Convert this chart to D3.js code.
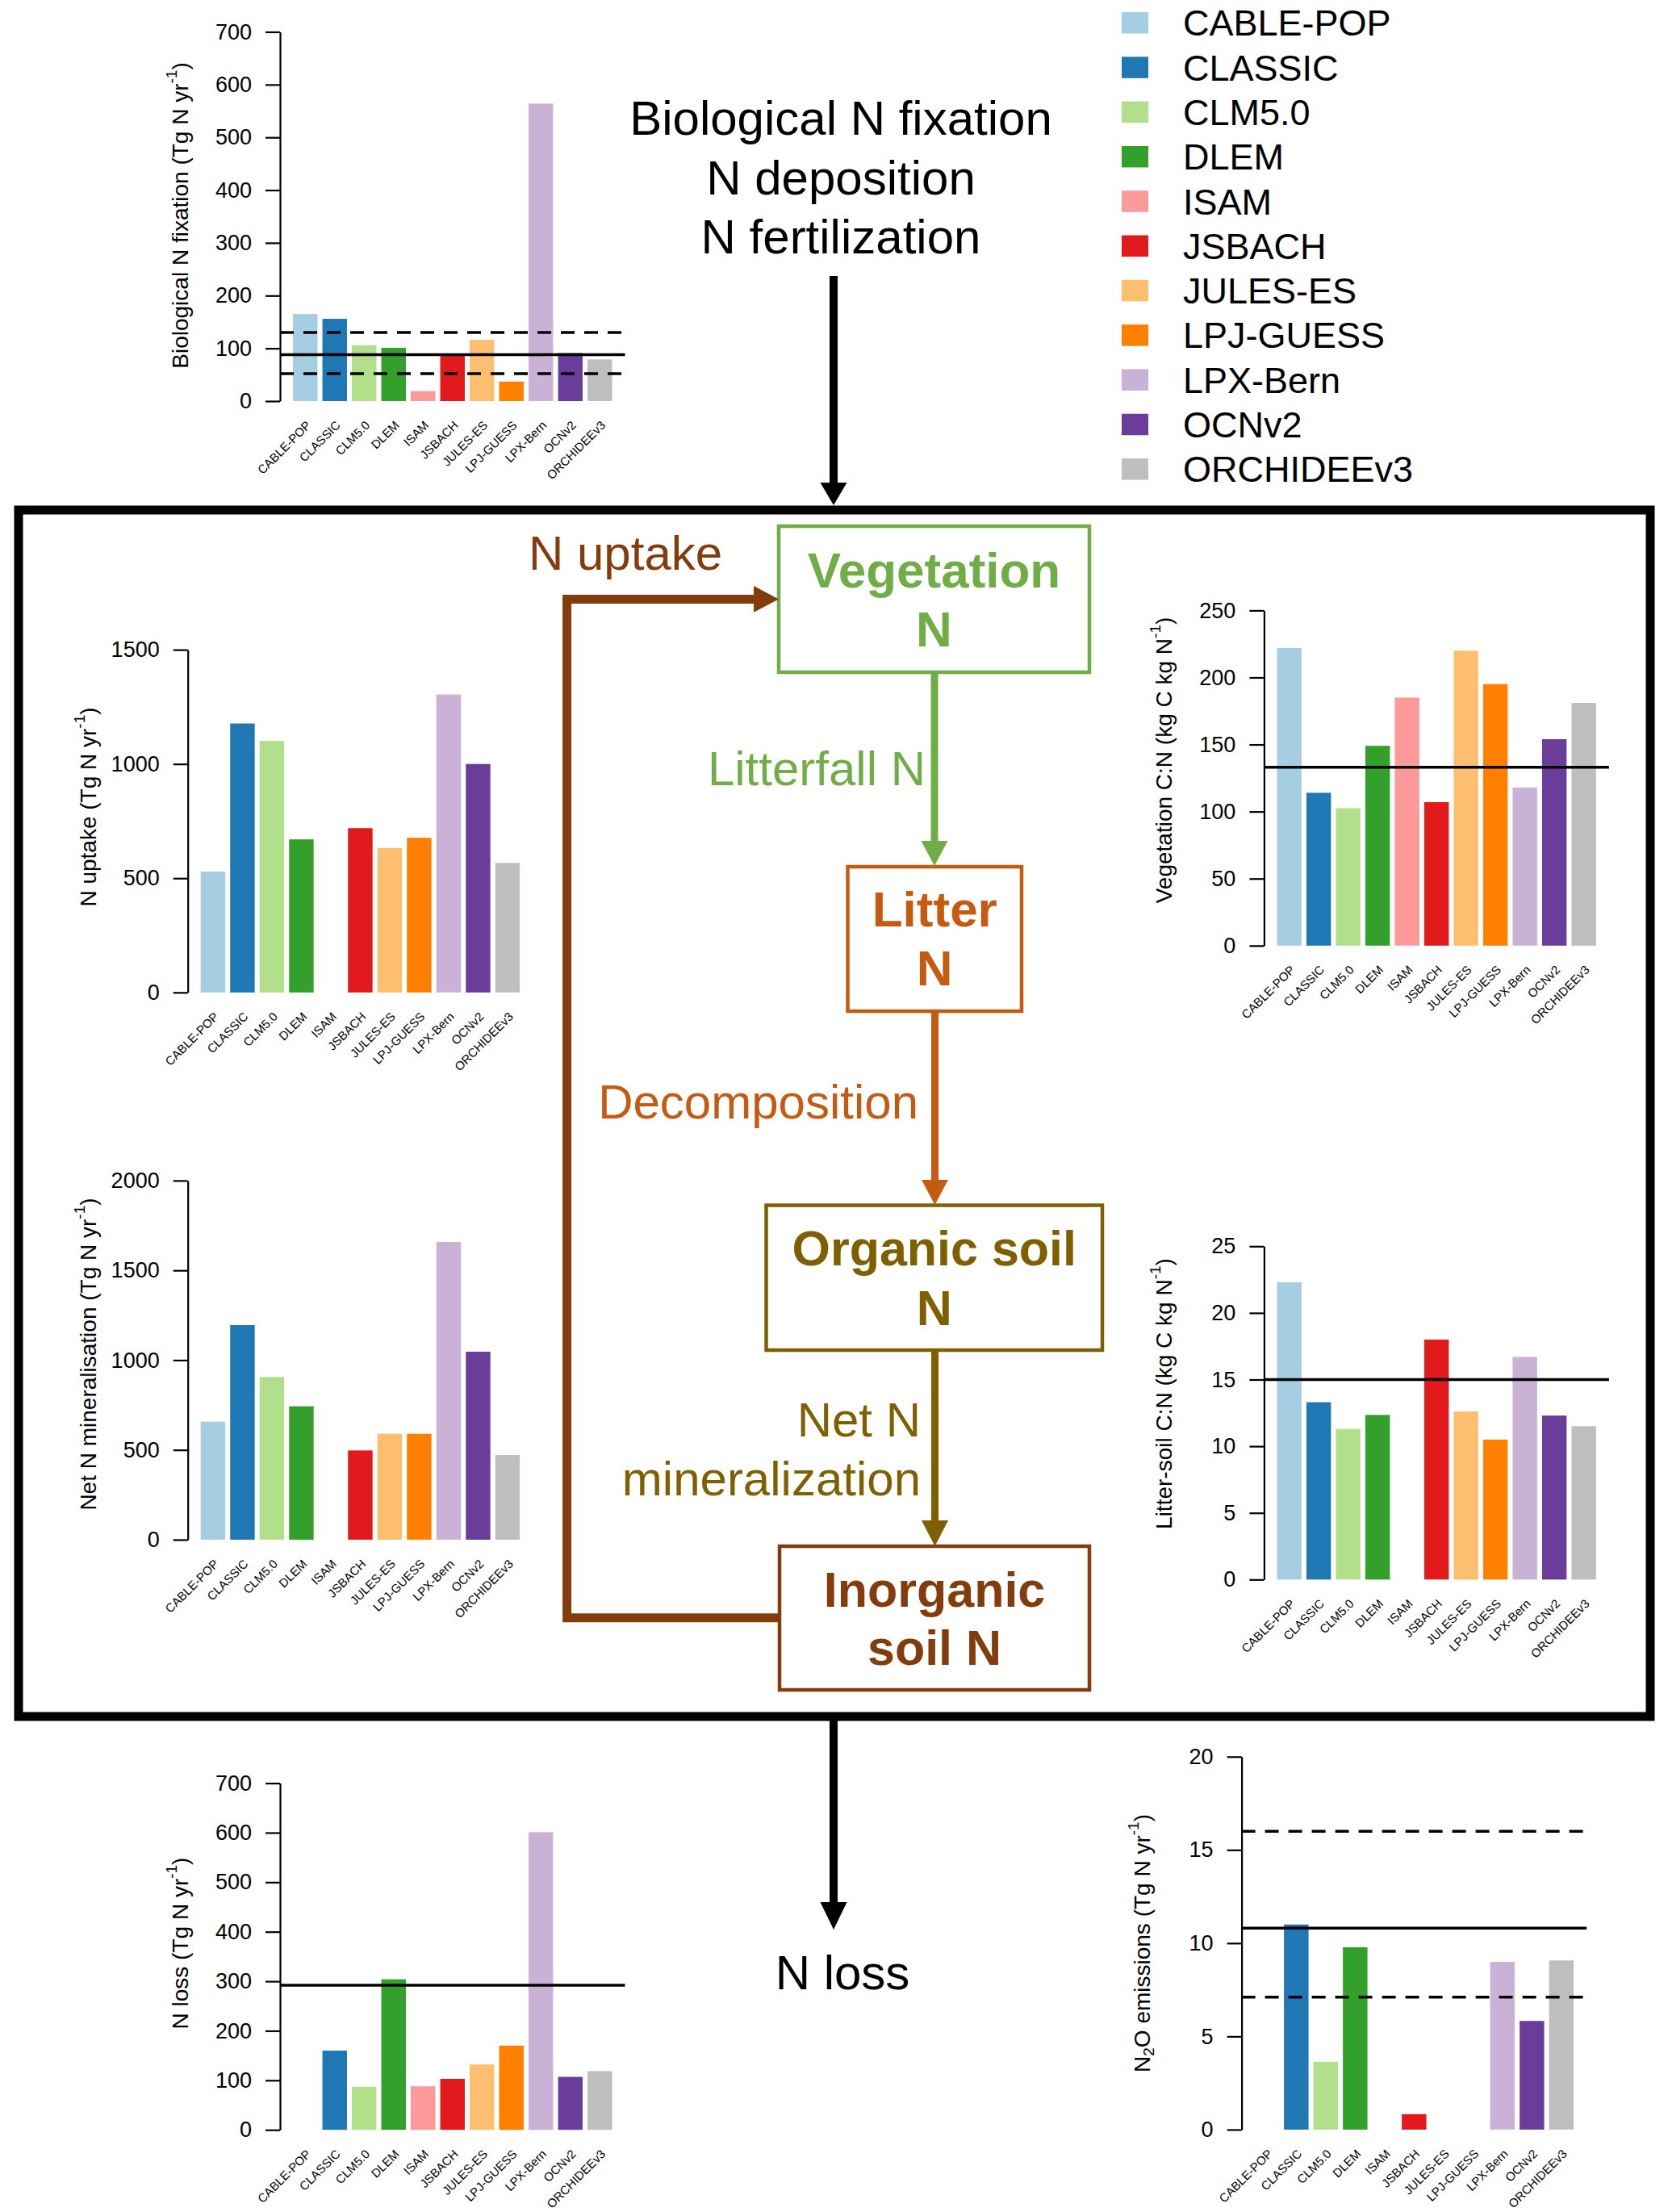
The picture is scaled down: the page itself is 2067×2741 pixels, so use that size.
<!DOCTYPE html>
<html>
<head>
<meta charset="utf-8">
<script src="https://cdn.jsdelivr.net/npm/d3@7"></script>
<style>
  body { margin: 0; background: #fff; }
  text { font-family: "Liberation Sans", Arial, Helvetica, sans-serif; }
</style>
</head>
<body>
<svg id="chart" width="2067" height="2741" xmlns="http://www.w3.org/2000/svg"></svg>
<script>
// ---------------- DATA ----------------
const models = ["CABLE-POP","CLASSIC","CLM5.0","DLEM","ISAM","JSBACH","JULES-ES","LPJ-GUESS","LPX-Bern","OCNv2","ORCHIDEEv3"];
const modelColors = ["#a6cee3","#1f78b4","#b2df8a","#33a02c","#fb9a99","#e31a1c","#fdbf6f","#ff7f00","#cab2d6","#6a3d9a","#bebebe"];

const bnfValues          = [165, 156, 106, 101, 19, 88, 116, 37, 564, 91, 79];
const bnfMean            = [88];
const bnfRange           = [52, 130];
const bnfTicks           = [0, 100, 200, 300, 400, 500, 600, 700];

const uptakeValues       = [529, 1177, 1101, 670, null, 719, 632, 677, 1304, 1000, 567];
const uptakeTicks        = [0, 500, 1000, 1500];

const vegCNValues        = [222, 114, 102.5, 149, 185, 107, 220, 195, 118, 154, 181];
const vegCNMean          = [133];
const vegCNTicks         = [0, 50, 100, 150, 200, 250];

const netMinValues       = [657, 1195, 906, 743, null, 497, 590, 590, 1658, 1047, 471];
const netMinTicks        = [0, 500, 1000, 1500, 2000];

const litterSoilCNValues = [22.3, 13.3, 11.3, 12.35, null, 18.0, 12.6, 10.5, 16.7, 12.3, 11.5];
const litterSoilCNMean   = [15];
const litterSoilCNTicks  = [0, 5, 10, 15, 20, 25];

const nLossValues        = [null, 160, 87, 304, 88, 103, 132, 170, 601, 107, 118.5];
const nLossMean          = [292];
const nLossTicks         = [0, 100, 200, 300, 400, 500, 600, 700];

const n2oValues          = [null, 11.0, 3.64, 9.78, null, 0.83, null, null, 9.0, 5.83, 9.07];
const n2oMean            = [10.8];
const n2oRange           = [7.1, 16];
const n2oTicks           = [0, 5, 10, 15, 20];

const inputLabels = ["Biological N fixation", "N deposition", "N fertilization"];

// ---------------- DRAWING ----------------
const svg = d3.select("#chart");
const color = d3.scaleOrdinal().domain(models).range(modelColors);

function yLabel(g, x, y, parts) {
  const t = g.append("text")
    .attr("transform", `translate(${x},${y}) rotate(-90)`)
    .attr("text-anchor", "middle")
    .attr("dominant-baseline", "central")
    .attr("font-size", 28)
    .attr("fill", "#000");
  parts.forEach(p => {
    const ts = t.append("tspan").text(p.t);
    if (p.dy) ts.attr("dy", p.dy);
    if (p.fs) ts.attr("font-size", p.fs);
  });
}

function unitParts(prefix) {
  return [
    {t: prefix + " (Tg N yr"},
    {t: "-1", dy: -11, fs: 19},
    {t: ")", dy: 11}
  ];
}

function panel(cfg) {
  const g = svg.append("g");
  const max = cfg.ticks[cfg.ticks.length - 1];
  const y = d3.scaleLinear().domain([0, max]).range([cfg.y0, cfg.yTop]);
  const step = 36.5;
  const r0 = cfg.axisX + 13;
  const x = d3.scaleBand().domain(models)
    .range([r0, r0 + step * models.length])
    .paddingInner(1/6).paddingOuter(1/12);

  // bars
  const data = models.map((m, i) => ({m, v: cfg.values[i]})).filter(d => d.v !== null);
  g.selectAll("rect.bar").data(data).join("rect")
    .attr("class", "bar")
    .attr("x", d => x(d.m))
    .attr("width", x.bandwidth())
    .attr("y", d => y(d.v))
    .attr("height", d => y(0) - y(d.v))
    .attr("fill", d => color(d.m));

  // reference lines
  const xEnd = r0 + step * models.length + 13;
  (cfg.mean || []).forEach(v => {
    g.append("line").attr("x1", cfg.axisX).attr("x2", xEnd)
      .attr("y1", y(v)).attr("y2", y(v))
      .attr("stroke", "#000").attr("stroke-width", 3.5);
  });
  (cfg.range || []).forEach(v => {
    g.append("line").attr("x1", cfg.axisX).attr("x2", xEnd)
      .attr("y1", y(v)).attr("y2", y(v))
      .attr("stroke", "#000").attr("stroke-width", 3.5)
      .attr("stroke-dasharray", "17,12");
  });

  // axis
  const ax = g.append("g").attr("transform", `translate(${cfg.axisX},0)`)
    .call(d3.axisLeft(y).tickValues(cfg.ticks).tickFormat(d3.format("d"))
      .tickSize(18).tickSizeOuter(0).tickPadding(17));
  ax.attr("font-family", null).attr("font-size", null);
  ax.selectAll("path").attr("stroke", "#000").attr("stroke-width", 2.2);
  ax.selectAll("line").attr("stroke", "#000").attr("stroke-width", 2.2);
  ax.selectAll("text").attr("font-size", 27).attr("fill", "#000");

  // x labels
  g.selectAll("text.xl").data(models).join("text")
    .attr("class", "xl")
    .attr("transform", d => `translate(${x(d) + x.bandwidth() / 2 + 4},${cfg.y0 + 27}) rotate(-45)`)
    .attr("text-anchor", "end")
    .attr("dominant-baseline", "central")
    .attr("font-size", 15)
    .attr("fill", "#000")
    .text(d => d);

  yLabel(g, cfg.axisX - 124, cfg.labelY, cfg.label);
}

panel({axisX: 347, y0: 497, yTop: 39.5, ticks: bnfTicks, values: bnfValues,
       mean: bnfMean, range: bnfRange, labelY: 267, label: unitParts("Biological N fixation")});
panel({axisX: 232.7, y0: 1229.8, yTop: 805.1, ticks: uptakeTicks, values: uptakeValues,
       labelY: 1000, label: unitParts("N uptake")});
panel({axisX: 1566.4, y0: 1171.8, yTop: 756.4, ticks: vegCNTicks, values: vegCNValues,
       mean: vegCNMean, labelY: 942,
       label: [{t: "Vegetation C:N (kg C kg N"}, {t: "-1", dy: -11, fs: 19}, {t: ")", dy: 11}]});
panel({axisX: 232.7, y0: 1907.9, yTop: 1462.9, ticks: netMinTicks, values: netMinValues,
       labelY: 1678, label: unitParts("Net N mineralisation")});
panel({axisX: 1566.4, y0: 1957.3, yTop: 1544.3, ticks: litterSoilCNTicks, values: litterSoilCNValues,
       mean: litterSoilCNMean, labelY: 1727,
       label: [{t: "Litter-soil C:N (kg C kg N"}, {t: "-1", dy: -11, fs: 19}, {t: ")", dy: 11}]});
panel({axisX: 347, y0: 2639.2, yTop: 2209.6, ticks: nLossTicks, values: nLossValues,
       mean: nLossMean, labelY: 2408, label: unitParts("N loss")});
panel({axisX: 1538.6, y0: 2638.9, yTop: 2176.8, ticks: n2oTicks, values: n2oValues,
       mean: n2oMean, range: n2oRange, labelY: 2408,
       label: [{t: "N"}, {t: "2", dy: 8, fs: 19}, {t: "O emissions (Tg N yr", dy: -8},
               {t: "-1", dy: -11, fs: 19}, {t: ")", dy: 11}]});

// ---------------- LEGEND ----------------
const leg = svg.append("g");
leg.selectAll("rect").data(models).join("rect")
  .attr("x", 1390).attr("y", (d, i) => 28.3 + 55.3 * i - 13.25)
  .attr("width", 33).attr("height", 26.5)
  .attr("fill", d => color(d));
leg.selectAll("text").data(models).join("text")
  .attr("x", 1466).attr("y", (d, i) => 28.3 + 55.3 * i + 16)
  .attr("font-size", 45).attr("fill", "#000")
  .text(d => d);

// ---------------- FLOW DIAGRAM ----------------
const fl = svg.append("g");
fl.selectAll("text.in").data(inputLabels).join("text")
  .attr("class", "in")
  .attr("x", 1042).attr("y", (d, i) => 167 + 73.7 * i)
  .attr("text-anchor", "middle").attr("font-size", 60).attr("fill", "#000")
  .text(d => d);

fl.append("rect").attr("x", 23).attr("y", 632).attr("width", 2022).attr("height", 1495)
  .attr("fill", "none").attr("stroke", "#000").attr("stroke-width", 11);

function vArrow(x, y1, yHead, yTip, col, w, hw) {
  fl.append("line").attr("x1", x).attr("x2", x).attr("y1", y1).attr("y2", yHead + 2)
    .attr("stroke", col).attr("stroke-width", w);
  fl.append("path").attr("d", `M${x - hw},${yHead} L${x + hw},${yHead} L${x},${yTip} Z`).attr("fill", col);
}

vArrow(1033, 342, 598, 626, "#000", 10, 16.5);
vArrow(1033, 2127, 2357, 2391, "#000", 10, 16.5);
fl.append("text").attr("x", 1044).attr("y", 2465).attr("text-anchor", "middle")
  .attr("font-size", 60).attr("fill", "#000").text("N loss");

const boxes = [
  {x0: 965, x1: 1350, y0: 652, y1: 833, col: "#70ad47", lines: ["Vegetation", "N"], b: [728, 801], fs: 62},
  {x0: 1050.5, x1: 1266, y0: 1074, y1: 1253, col: "#c55a11", lines: ["Litter", "N"], b: [1148, 1221], fs: 62},
  {x0: 949.5, x1: 1366, y0: 1493.5, y1: 1673, col: "#7f6000", lines: ["Organic soil", "N"], b: [1568, 1641.5], fs: 61},
  {x0: 966, x1: 1350, y0: 1916, y1: 2094, col: "#843c0c", lines: ["Inorganic", "soil N"], b: [1991, 2063], fs: 61}
];
boxes.forEach(bx => {
  fl.append("rect").attr("x", bx.x0).attr("y", bx.y0)
    .attr("width", bx.x1 - bx.x0).attr("height", bx.y1 - bx.y0)
    .attr("fill", "#fff").attr("stroke", bx.col).attr("stroke-width", 4.5);
  bx.lines.forEach((l, i) => {
    fl.append("text").attr("x", (bx.x0 + bx.x1) / 2).attr("y", bx.b[i])
      .attr("text-anchor", "middle").attr("font-weight", "bold")
      .attr("font-size", bx.fs).attr("fill", bx.col).text(l);
  });
});

vArrow(1158, 833, 1042, 1073, "#70ad47", 9, 16.5);
vArrow(1158.5, 1253, 1462, 1493, "#c55a11", 9, 16.5);
vArrow(1158.5, 1673, 1884, 1916, "#7f6000", 9, 16.5);

fl.append("path")
  .attr("d", "M966,2004.7 L702.6,2004.7 L702.6,742.4 L936,742.4")
  .attr("fill", "none").attr("stroke", "#843c0c").attr("stroke-width", 11)
  .attr("stroke-linejoin", "miter");
fl.append("path").attr("d", "M934,726 L934,758.8 L965,742.4 Z").attr("fill", "#843c0c");

fl.append("text").attr("x", 655).attr("y", 706).attr("font-size", 60)
  .attr("fill", "#843c0c").text("N uptake");
fl.append("text").attr("x", 1147).attr("y", 973).attr("font-size", 60)
  .attr("text-anchor", "end").attr("fill", "#70ad47").text("Litterfall N");
fl.append("text").attr("x", 1138).attr("y", 1386).attr("font-size", 60)
  .attr("text-anchor", "end").attr("fill", "#c55a11").text("Decomposition");
fl.append("text").attr("x", 1141).attr("y", 1780).attr("font-size", 60)
  .attr("text-anchor", "end").attr("fill", "#7f6000").text("Net N");
fl.append("text").attr("x", 1141).attr("y", 1853).attr("font-size", 60)
  .attr("text-anchor", "end").attr("fill", "#7f6000").text("mineralization");
</script>
</body>
</html>
